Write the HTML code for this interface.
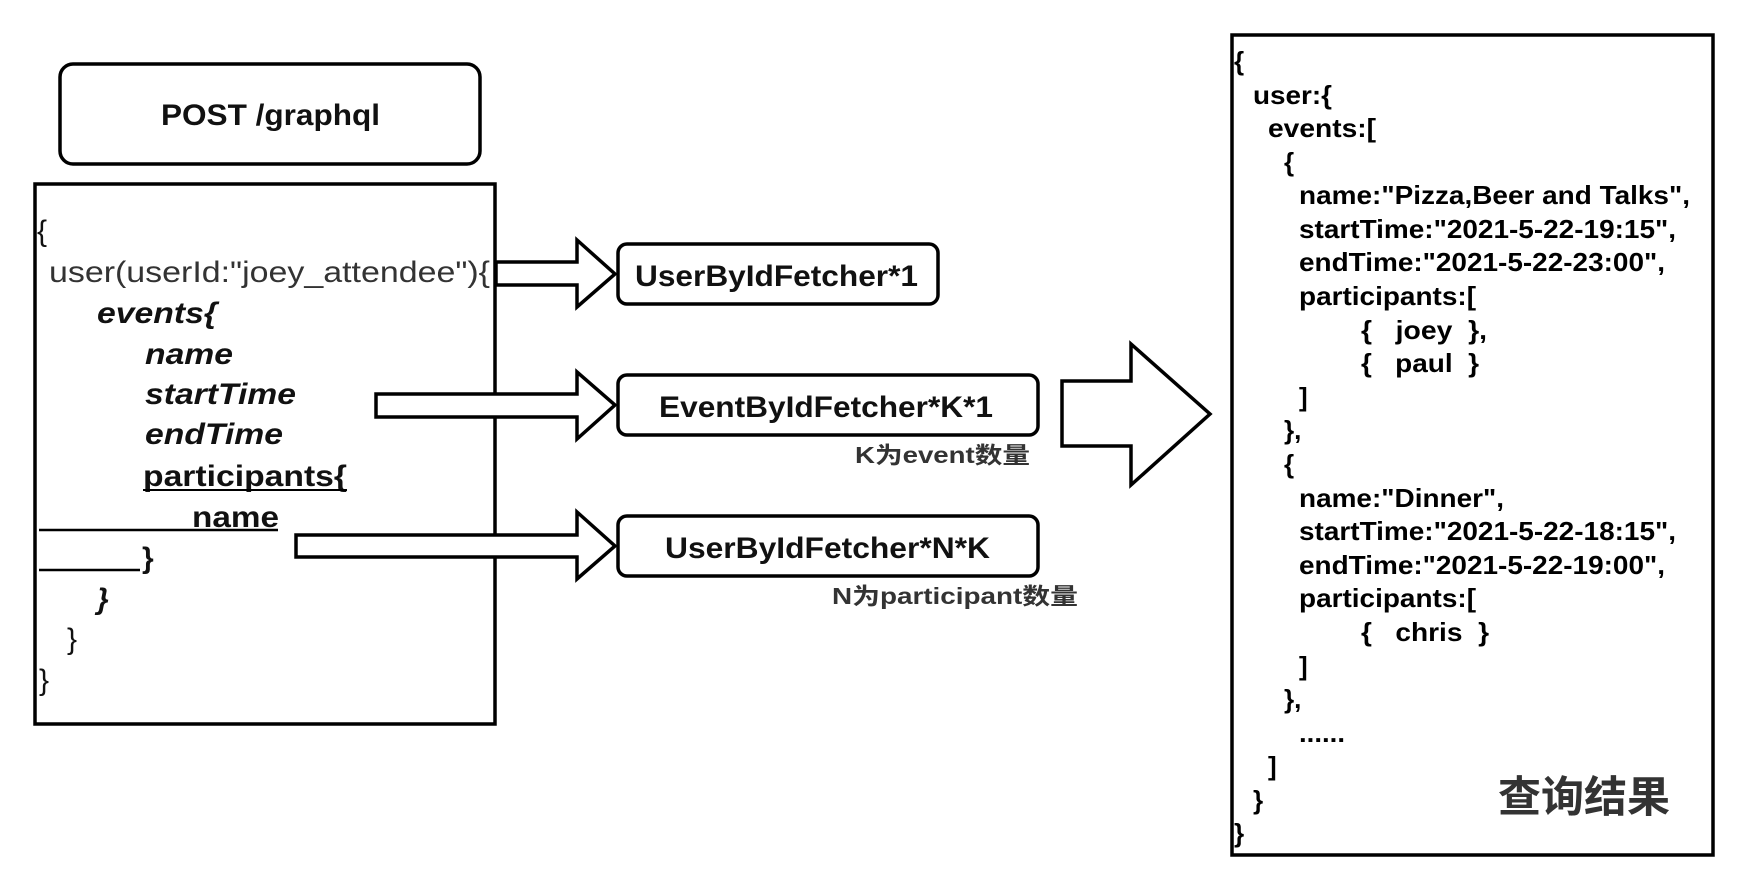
<!DOCTYPE html>
<html><head><meta charset="utf-8"><style>
html,body{margin:0;padding:0;background:#fff;}
svg{display:block;}
.l{font-family:"Liberation Sans","Noto Sans CJK SC",sans-serif;font-size:30px;fill:#111;}
.b{font-weight:bold;}
.i{font-style:italic;}
.r{font-family:"Liberation Sans","Noto Sans CJK SC",sans-serif;font-size:26px;font-weight:bold;fill:#000;}
</style></head><body>
<svg width="1746" height="886" viewBox="0 0 1746 886" xmlns="http://www.w3.org/2000/svg">
<rect width="1746" height="886" fill="#fff"/>
<g fill="#fff" stroke="#000" stroke-width="3.5">
<rect x="60" y="64" width="420" height="100" rx="13"/>
<rect x="35" y="184" width="460" height="540"/>
<rect x="618" y="244" width="320" height="60" rx="9"/>
<rect x="618" y="375" width="420" height="60" rx="9"/>
<rect x="618" y="516" width="420" height="60" rx="9"/>
<rect x="1232" y="35" width="481" height="820"/>
<polygon points="496,262 577,262 577,240 615,274 577,307 577,285 496,285"/>
<polygon points="376,394 577,394 577,372 615,405 577,439 577,417 376,417"/>
<polygon points="296,535 577,535 577,512 615,546 577,579 577,557 296,557"/>
<polygon points="1062,381 1131,381 1131,344 1210,414 1131,485 1131,446 1062,446"/>
</g>
<text x="161" y="125" class="l b" textLength="219" lengthAdjust="spacingAndGlyphs">POST /graphql</text>
<text x="635" y="286" class="l b" textLength="283" lengthAdjust="spacingAndGlyphs">UserByIdFetcher*1</text>
<text x="659" y="417" class="l b" textLength="334" lengthAdjust="spacingAndGlyphs">EventByIdFetcher*K*1</text>
<text x="665" y="558" class="l b" textLength="325" lengthAdjust="spacingAndGlyphs">UserByIdFetcher*N*K</text>
<text x="855" y="463" class="l b" style="font-size:23px;fill:#333" textLength="175" lengthAdjust="spacingAndGlyphs">K为event数量</text>
<text x="832" y="604" class="l b" style="font-size:23px;fill:#333" textLength="246" lengthAdjust="spacingAndGlyphs">N为participant数量</text>
<g class="l">
<text x="37" y="241">{</text>
<text x="49" y="282" style="fill:#333" textLength="441" lengthAdjust="spacingAndGlyphs">user(userId:"joey_attendee"){</text>
<text x="97" y="323" class="b i" textLength="120" lengthAdjust="spacingAndGlyphs">events{</text>
<text x="145" y="364" class="b i" textLength="88" lengthAdjust="spacingAndGlyphs">name</text>
<text x="145" y="404" class="b i" textLength="151" lengthAdjust="spacingAndGlyphs">startTime</text>
<text x="145" y="444" class="b i" textLength="138" lengthAdjust="spacingAndGlyphs">endTime</text>
<text x="143" y="486" class="b" textLength="204" lengthAdjust="spacingAndGlyphs">participants{</text>
<text x="192" y="527" class="b" textLength="87" lengthAdjust="spacingAndGlyphs">name</text>
<text x="142" y="568" class="b">}</text>
<text x="97" y="609" class="b i">}</text>
<text x="67" y="649">}</text>
<text x="39" y="690">}</text>
</g>
<line x1="143" y1="490" x2="347" y2="490" stroke="#000" stroke-width="2"/>
<line x1="39" y1="530" x2="278" y2="530" stroke="#000" stroke-width="2.5"/>
<line x1="39" y1="570" x2="140" y2="570" stroke="#000" stroke-width="2.5"/>
<g class="r">
<text x="1234" y="70">{</text>
<text x="1253" y="104" textLength="79" lengthAdjust="spacingAndGlyphs">user:{</text>
<text x="1268" y="137" textLength="108" lengthAdjust="spacingAndGlyphs">events:[</text>
<text x="1284" y="171">{</text>
<text x="1299" y="204" textLength="391" lengthAdjust="spacingAndGlyphs">name:"Pizza,Beer and Talks",</text>
<text x="1299" y="238" textLength="377" lengthAdjust="spacingAndGlyphs">startTime:"2021-5-22-19:15",</text>
<text x="1299" y="271" textLength="366" lengthAdjust="spacingAndGlyphs">endTime:"2021-5-22-23:00",</text>
<text x="1299" y="305" textLength="177" lengthAdjust="spacingAndGlyphs">participants:[</text>
<text x="1361" y="339" textLength="126" lengthAdjust="spacingAndGlyphs">{&#160;&#160; joey&#160; },</text>
<text x="1361" y="372" textLength="118" lengthAdjust="spacingAndGlyphs">{&#160;&#160; paul&#160; }</text>
<text x="1299" y="406">]</text>
<text x="1284" y="439">},</text>
<text x="1284" y="473">{</text>
<text x="1299" y="507" textLength="205" lengthAdjust="spacingAndGlyphs">name:"Dinner",</text>
<text x="1299" y="540" textLength="377" lengthAdjust="spacingAndGlyphs">startTime:"2021-5-22-18:15",</text>
<text x="1299" y="574" textLength="366" lengthAdjust="spacingAndGlyphs">endTime:"2021-5-22-19:00",</text>
<text x="1299" y="607" textLength="177" lengthAdjust="spacingAndGlyphs">participants:[</text>
<text x="1361" y="641" textLength="128" lengthAdjust="spacingAndGlyphs">{&#160;&#160; chris&#160; }</text>
<text x="1299" y="675">]</text>
<text x="1284" y="708">},</text>
<text x="1299" y="742" textLength="46" lengthAdjust="spacingAndGlyphs">......</text>
<text x="1268" y="775">]</text>
<text x="1253" y="809">}</text>
<text x="1234" y="842">}</text>
</g>
<text x="1498" y="812" class="l b" style="font-size:43px;fill:#333">查询结果</text>
</svg>
</body></html>
